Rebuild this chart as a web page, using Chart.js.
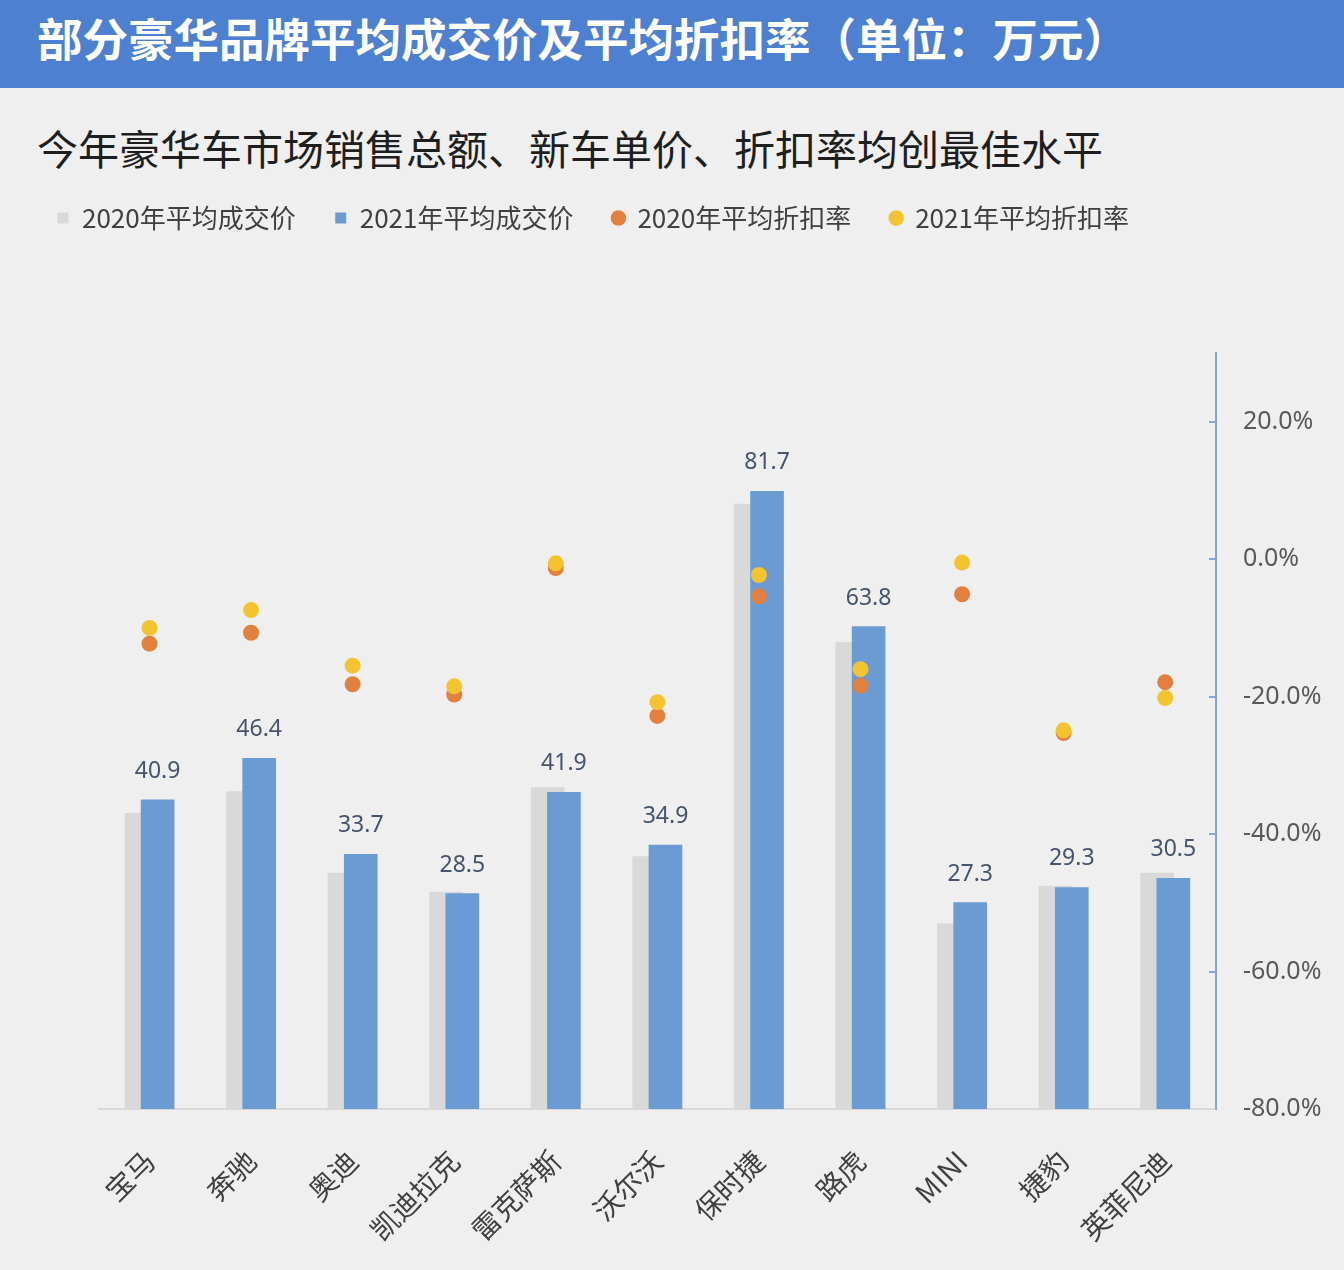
<!DOCTYPE html>
<html>
<head>
<meta charset="utf-8">
<script src="https://cdn.jsdelivr.net/npm/chart.js@4.4.0/dist/chart.umd.min.js"></script>
<style>
  body { margin: 0; background: #efefef; width: 1344px; height: 1270px; overflow: hidden; position: relative; font-family: "Noto Sans CJK SC", sans-serif; }
  .banner { position: absolute; left: 0; top: 0; width: 1344px; height: 88px; background: #4d80d1; }
  .banner h1 { margin: 0; position: absolute; left: 37px; top: 0; line-height: 74px; font-size: 45.5px; font-weight: 700; color: #fff; }
  .sub { position: absolute; left: 37px; top: 124px; font-size: 41px; line-height: 46px; color: #1e1e1e; }
  .wrap { position: absolute; left: 0; top: 160px; }
</style>
</head>
<body>
<div class="banner"><h1>部分豪华品牌平均成交价及平均折扣率（单位：万元）</h1></div>
<div class="sub">今年豪华车市场销售总额、新车单价、折扣率均创最佳水平</div>
<div class="wrap"><canvas id="chart" width="1344" height="1110"></canvas></div>
<script>
const brands = ["宝马", "奔驰", "奥迪", "凯迪拉克", "雷克萨斯", "沃尔沃", "保时捷", "路虎", "MINI", "捷豹", "英菲尼迪"];
const price2020 = [39.1, 42.0, 31.2, 28.7, 42.5, 33.4, 80.0, 61.7, 24.5, 29.5, 31.2];
const price2021 = [40.9, 46.4, 33.7, 28.5, 41.9, 34.9, 81.7, 63.8, 27.3, 29.3, 30.5];
const discount2020 = [-12.3, -10.7, -18.2, -19.7, -1.3, -22.8, -5.4, -18.4, -5.1, -25.3, -17.9];
const discount2021 = [-10.0, -7.4, -15.5, -18.5, -0.6, -20.8, -2.3, -16.0, -0.5, -24.9, -20.2];
const rateTicks = [-80, -60, -40, -20, 0, 20];

// bars of 2020 sit a bit left of the category, 2021 a bit right (overlapping)
const shift = 0.08;
const pts = (arr) => arr.map((y, i) => ({ x: i, y }));

const valueLabels = {
  id: "valueLabels",
  afterDatasetsDraw(chart) {
    const meta = chart.getDatasetMeta(1);
    const ctx = chart.ctx;
    ctx.save();
    ctx.font = '23px "Noto Sans"';
    ctx.fillStyle = "#44546a";
    ctx.textAlign = "center";
    ctx.textBaseline = "alphabetic";
    meta.data.forEach((bar, i) => {
      ctx.fillText(price2021[i].toFixed(1), bar.x, bar.y - 22);
    });
    ctx.restore();
  },
};

const ctx = document.getElementById("chart").getContext("2d");

new Chart(ctx, {
  type: "bar",
  data: {
    datasets: [
      {
        label: "2020年平均成交价",
        data: pts(price2020),
        backgroundColor: "#d9d9d9",
        xAxisID: "xg",
        yAxisID: "y",
        grouped: false,
        barThickness: 33,
        pointStyle: "rect",
        order: 4,
      },
      {
        label: "2021年平均成交价",
        data: pts(price2021),
        backgroundColor: "#6a9bd3",
        xAxisID: "xb",
        yAxisID: "y",
        grouped: false,
        barThickness: 33,
        pointStyle: "rect",
        order: 3,
      },
      {
        type: "scatter",
        label: "2020年平均折扣率",
        data: pts(discount2020),
        backgroundColor: "#e3803e",
        borderWidth: 0,
        pointRadius: 8,
        pointStyle: "circle",
        xAxisID: "x",
        yAxisID: "yR",
        order: 2,
      },
      {
        type: "scatter",
        label: "2021年平均折扣率",
        data: pts(discount2021),
        backgroundColor: "#f4c430",
        borderWidth: 0,
        pointRadius: 8,
        pointStyle: "circle",
        xAxisID: "x",
        yAxisID: "yR",
        order: 1,
      },
    ],
  },
  options: {
    responsive: false,
    animation: false,
    events: [],
    layout: { padding: { left: 18, top: 6, right: 0, bottom: 0 } },
    plugins: {
      tooltip: { enabled: false },
      legend: {
        position: "top",
        align: "start",
        labels: {
          usePointStyle: true,
          boxWidth: 12,
          boxHeight: 11,
          padding: 39,
          color: "#404040",
          font: { family: "Noto Sans CJK SC", size: 26 },
          sort: (a, b) => a.datasetIndex - b.datasetIndex,
        },
      },
    },
    scales: {
      x: {
        type: "linear",
        position: "bottom",
        offset: false,
        min: -0.5,
        max: 10.5,
        afterBuildTicks: (s) => {
          s.ticks = brands.map((_, i) => ({ value: i }));
        },
        afterFit: (s) => {
          s.height = 161;
        },
        grid: { display: false },
        border: { color: "#d9d9d9", width: 2 },
        ticks: {
          autoSkip: false,
          minRotation: 45,
          maxRotation: 45,
          padding: 27,
          color: "#404040",
          font: { family: "Noto Sans CJK SC", size: 28 },
          callback: (v) => brands[v],
        },
      },
      xg: { type: "linear", display: false, offset: false, min: -0.5 + shift, max: 10.5 + shift },
      xb: { type: "linear", display: false, offset: false, min: -0.5 - shift, max: 10.5 - shift },
      xTop: {
        type: "linear",
        position: "top",
        grid: { display: false },
        border: { display: false },
        ticks: { display: false },
        afterFit: (s) => {
          s.height = 112;
        },
      },
      y: {
        position: "left",
        min: 0,
        max: 100,
        grid: { display: false },
        border: { display: false },
        ticks: { display: false },
        afterFit: (s) => {
          s.width = 80.7;
        },
      },
      yR: {
        position: "right",
        min: -80,
        max: 30,
        afterBuildTicks: (s) => {
          s.ticks = rateTicks.map((v) => ({ value: v }));
        },
        afterFit: (s) => {
          s.width = 128;
        },
        border: { color: "#7fa7dc", width: 2 },
        grid: { drawOnChartArea: false, color: "#7fa7dc", lineWidth: 2, tickLength: -7 },
        ticks: {
          padding: 34,
          color: "#595959",
          font: { family: "Noto Sans", size: 25 },
          callback: (v) => v.toFixed(1) + "%",
        },
      },
    },
  },
  plugins: [valueLabels],
});
</script>
</body>
</html>
